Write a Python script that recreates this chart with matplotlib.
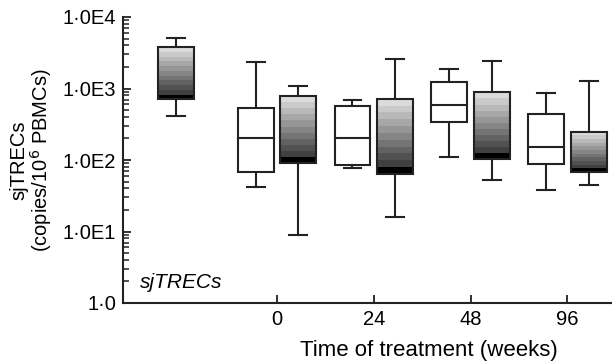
import numpy as np
import matplotlib
matplotlib.use("Agg")
import matplotlib.pyplot as plt
from matplotlib.patches import Rectangle
from matplotlib.ticker import LogLocator, NullFormatter

plt.rcParams['font.family'] = ['Liberation Sans', 'DejaVu Sans']

# time points (weeks) and the control box in front of them
weeks = ['0', '24', '48', '96']

# box stats: whisker low, q1, median, q3, whisker high
control = [417, 706, 706, 3770, 5100]
untreated = [  # white boxes
    [42, 68, 205, 540, 2370],
    [78, 86, 205, 569, 690],
    [109, 343, 594, 1220, 1875],
    [38, 89, 150, 444, 865],
]
treated = [  # gradient boxes
    [8.9, 90, 90, 785, 1070],
    [16, 64, 64, 720, 2590],
    [53, 102, 102, 884, 2450],
    [44, 68, 68, 249, 1270],
]

BOX_W = 0.37
OFFSET = 0.22
CONTROL_POS = -1.04


def gradient_box(ax, x, lo, hi, w):
    # banded gray fill: light on top, black band at the bottom
    n = 11
    edges = np.logspace(np.log10(lo), np.log10(hi), n + 1)
    shades = np.linspace(0.25, 0.86, n - 1)
    colors = ['black'] + [str(s) for s in shades]
    for i in range(n):
        ax.bar(x, edges[i + 1] - edges[i], bottom=edges[i], width=w,
               color=colors[i], linewidth=0, zorder=2)
    ax.add_patch(Rectangle((x - w / 2, lo), w, hi - lo, fill=False,
                           edgecolor='#222222', linewidth=1.5, zorder=3))


def draw_box(ax, x, stats, filled):
    wlo, q1, med, q3, whi = stats
    w = BOX_W
    cap = w * 0.5
    kw = dict(color='#222222', linewidth=1.5, zorder=1)
    ax.plot([x, x], [wlo, q1], **kw)
    ax.plot([x, x], [q3, whi], **kw)
    ax.plot([x - cap / 2, x + cap / 2], [wlo, wlo], **kw)
    ax.plot([x - cap / 2, x + cap / 2], [whi, whi], **kw)
    if filled:
        gradient_box(ax, x, q1, q3, w)
    else:
        ax.add_patch(Rectangle((x - w / 2, q1), w, q3 - q1, facecolor='white',
                               edgecolor='#222222', linewidth=1.5, zorder=3))
        ax.plot([x - w / 2, x + w / 2], [med, med], color='#222222',
                linewidth=1.5, zorder=4)


fig = plt.figure(figsize=(6.12, 3.63), dpi=100)
ax = fig.add_axes([123 / 612, 1 - 303 / 363, 489 / 612, 286 / 363])

draw_box(ax, CONTROL_POS, control, True)
for i in range(len(weeks)):
    draw_box(ax, i - OFFSET, untreated[i], False)
    draw_box(ax, i + OFFSET, treated[i], True)

ax.set_yscale('log')
ax.set_ylim(1, 1e4)
ax.set_xlim(-1.59, 3.46)

ax.set_yticks([1, 10, 100, 1000, 10000])
ax.set_yticklabels(['1·0', '1·0E1', '1·0E2', '1·0E3', '1·0E4'], fontsize=14.5)
ax.yaxis.set_minor_locator(LogLocator(base=10, subs=np.arange(2, 10)))
ax.yaxis.set_minor_formatter(NullFormatter())
ax.set_xticks(range(len(weeks)))
ax.set_xticklabels(weeks, fontsize=14.5)

ax.tick_params(axis='both', which='major', direction='in', length=6,
               width=1.3, color='#222222', pad=5)
ax.tick_params(axis='y', which='minor', direction='in', length=4, width=1.1,
               color='#222222')
for side in ['top', 'right']:
    ax.spines[side].set_visible(False)
for side in ['left', 'bottom']:
    ax.spines[side].set_linewidth(1.5)
    ax.spines[side].set_color('#222222')

ax.set_xlabel('Time of treatment (weeks)', fontsize=16, labelpad=0)
ax.xaxis.set_label_coords(0.626, -0.13)
ax.set_ylabel('sjTRECs\n(copies/10$^{6}$ PBMCs)', fontsize=14.5, labelpad=6,
              linespacing=1.0)
ax.text(0.035, 0.07, 'sjTRECs', transform=ax.transAxes, fontsize=15,
        style='italic', ha='left', va='center')

fig.savefig('out.png', dpi=100)
